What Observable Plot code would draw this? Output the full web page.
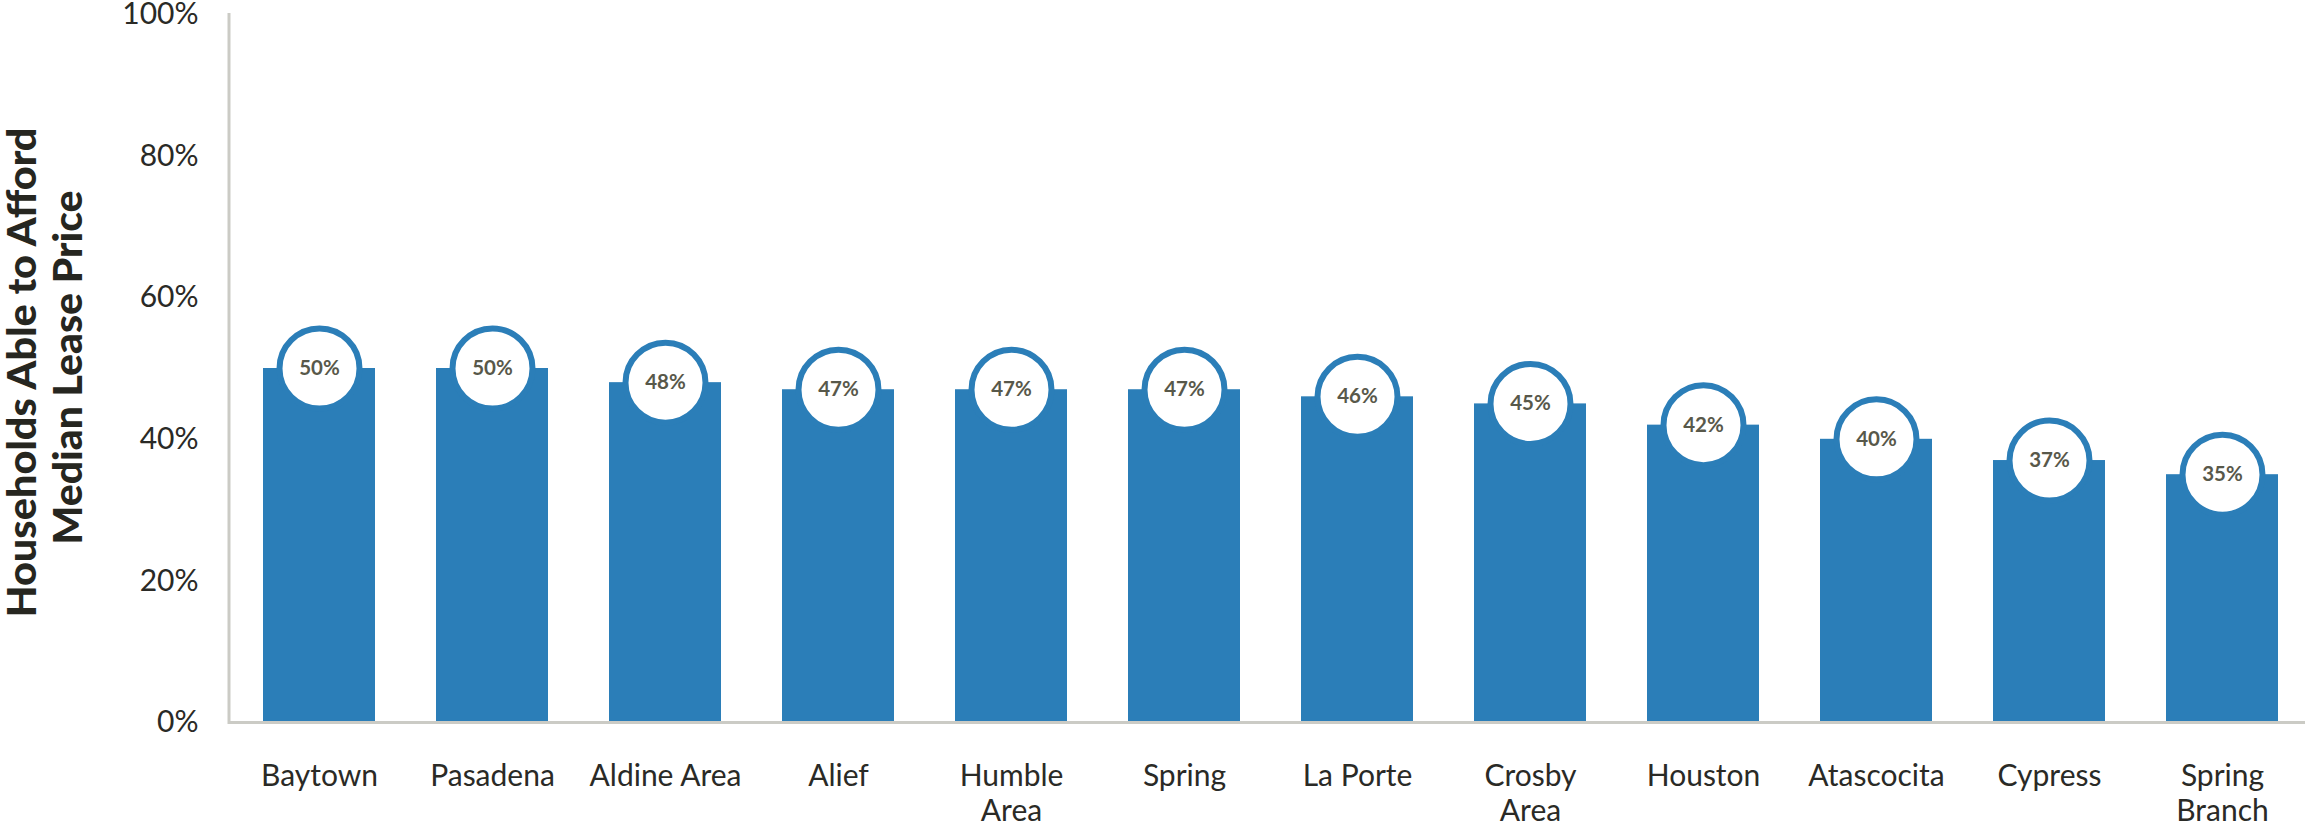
<!DOCTYPE html>
<html>
<head>
<meta charset="utf-8">
<script src="https://cdn.jsdelivr.net/npm/d3@7"></script>
<script src="https://cdn.jsdelivr.net/npm/@observablehq/plot@0.6"></script>
<style>
  html, body { margin: 0; padding: 0; background: #fff; }
  #chart svg { display: block; }
</style>
</head>
<body>
<div id="chart"></div>
<script>
const categories = ["Baytown", "Pasadena", "Aldine Area", "Alief", "Humble Area", "Spring", "La Porte", "Crosby Area", "Houston", "Atascocita", "Cypress", "Spring Branch"];
const tickLabels = ["Baytown", "Pasadena", "Aldine Area", "Alief", "Humble\nArea", "Spring", "La Porte", "Crosby\nArea", "Houston", "Atascocita", "Cypress", "Spring\nBranch"];
const values = [50, 50, 48, 47, 47, 47, 46, 45, 42, 40, 37, 35];
const yTicks = [0, 20, 40, 60, 80, 100];
const titleLines = ["Households Able to Afford", "Median Lease Price"];

const data = categories.map((c, i) => ({category: c, value: values[i], label: tickLabels[i]}));

const BLUE = "#2b7eb8";
const AXIS = "#cbcbc5";

const chart = Plot.plot({
  width: 2305,
  height: 825,
  marginTop: 14,
  marginBottom: 103,
  marginLeft: 230,
  marginRight: 0,
  style: {fontFamily: "Lato, sans-serif", background: "#fff"},
  x: {domain: categories, range: [231.5, 2308.5], paddingInner: 0.353, paddingOuter: 0.1765, axis: null},
  y: {domain: [0, 100], axis: null},
  marks: [
    Plot.barY(data, {x: "category", y: "value", fill: BLUE}),
    Plot.ruleY([0], {stroke: AXIS, strokeWidth: 3}),
    Plot.frame({anchor: "left", stroke: AXIS, strokeWidth: 3, dx: -1.5}),
    Plot.axisY({ticks: yTicks, tickSize: 0, tickPadding: 32, tickFormat: d => d + "%", fontSize: 30, fill: "#2a2a26", label: null}),
    Plot.text(data, {x: "category", text: "label", frameAnchor: "bottom", lineAnchor: "top", dy: 38.5, lineHeight: 1.17, fontSize: 30, fill: "#2a2a26"}),
    Plot.dot(data, {x: "category", y: "value", r: 40, fill: "#fff", stroke: BLUE, strokeWidth: 6}),
    Plot.text(data, {x: "category", y: "value", text: d => d.value + "%", fontSize: 20.5, fontWeight: "bold", fill: "#58584a"}),
    Plot.text([titleLines[0]], {text: d => d, frameAnchor: "left", textAnchor: "middle", lineAnchor: "middle", rotate: -90, dx: -207, dy: 4, fontSize: 40, fontWeight: 900, fill: "#262620"}),
    Plot.text([titleLines[1]], {text: d => d, frameAnchor: "left", textAnchor: "middle", lineAnchor: "middle", rotate: -90, dx: -161, dy: -1, fontSize: 40, fontWeight: 900, fill: "#262620"})
  ]
});

document.getElementById("chart").appendChild(chart);

const lengths = {};
lengths[titleLines[0]] = 490;
lengths[titleLines[1]] = 354;
chart.querySelectorAll("text").forEach(t => {
  const L = lengths[t.textContent];
  if (L) {
    t.setAttribute("textLength", L);
    t.setAttribute("lengthAdjust", "spacingAndGlyphs");
  }
});
</script>
</body>
</html>
